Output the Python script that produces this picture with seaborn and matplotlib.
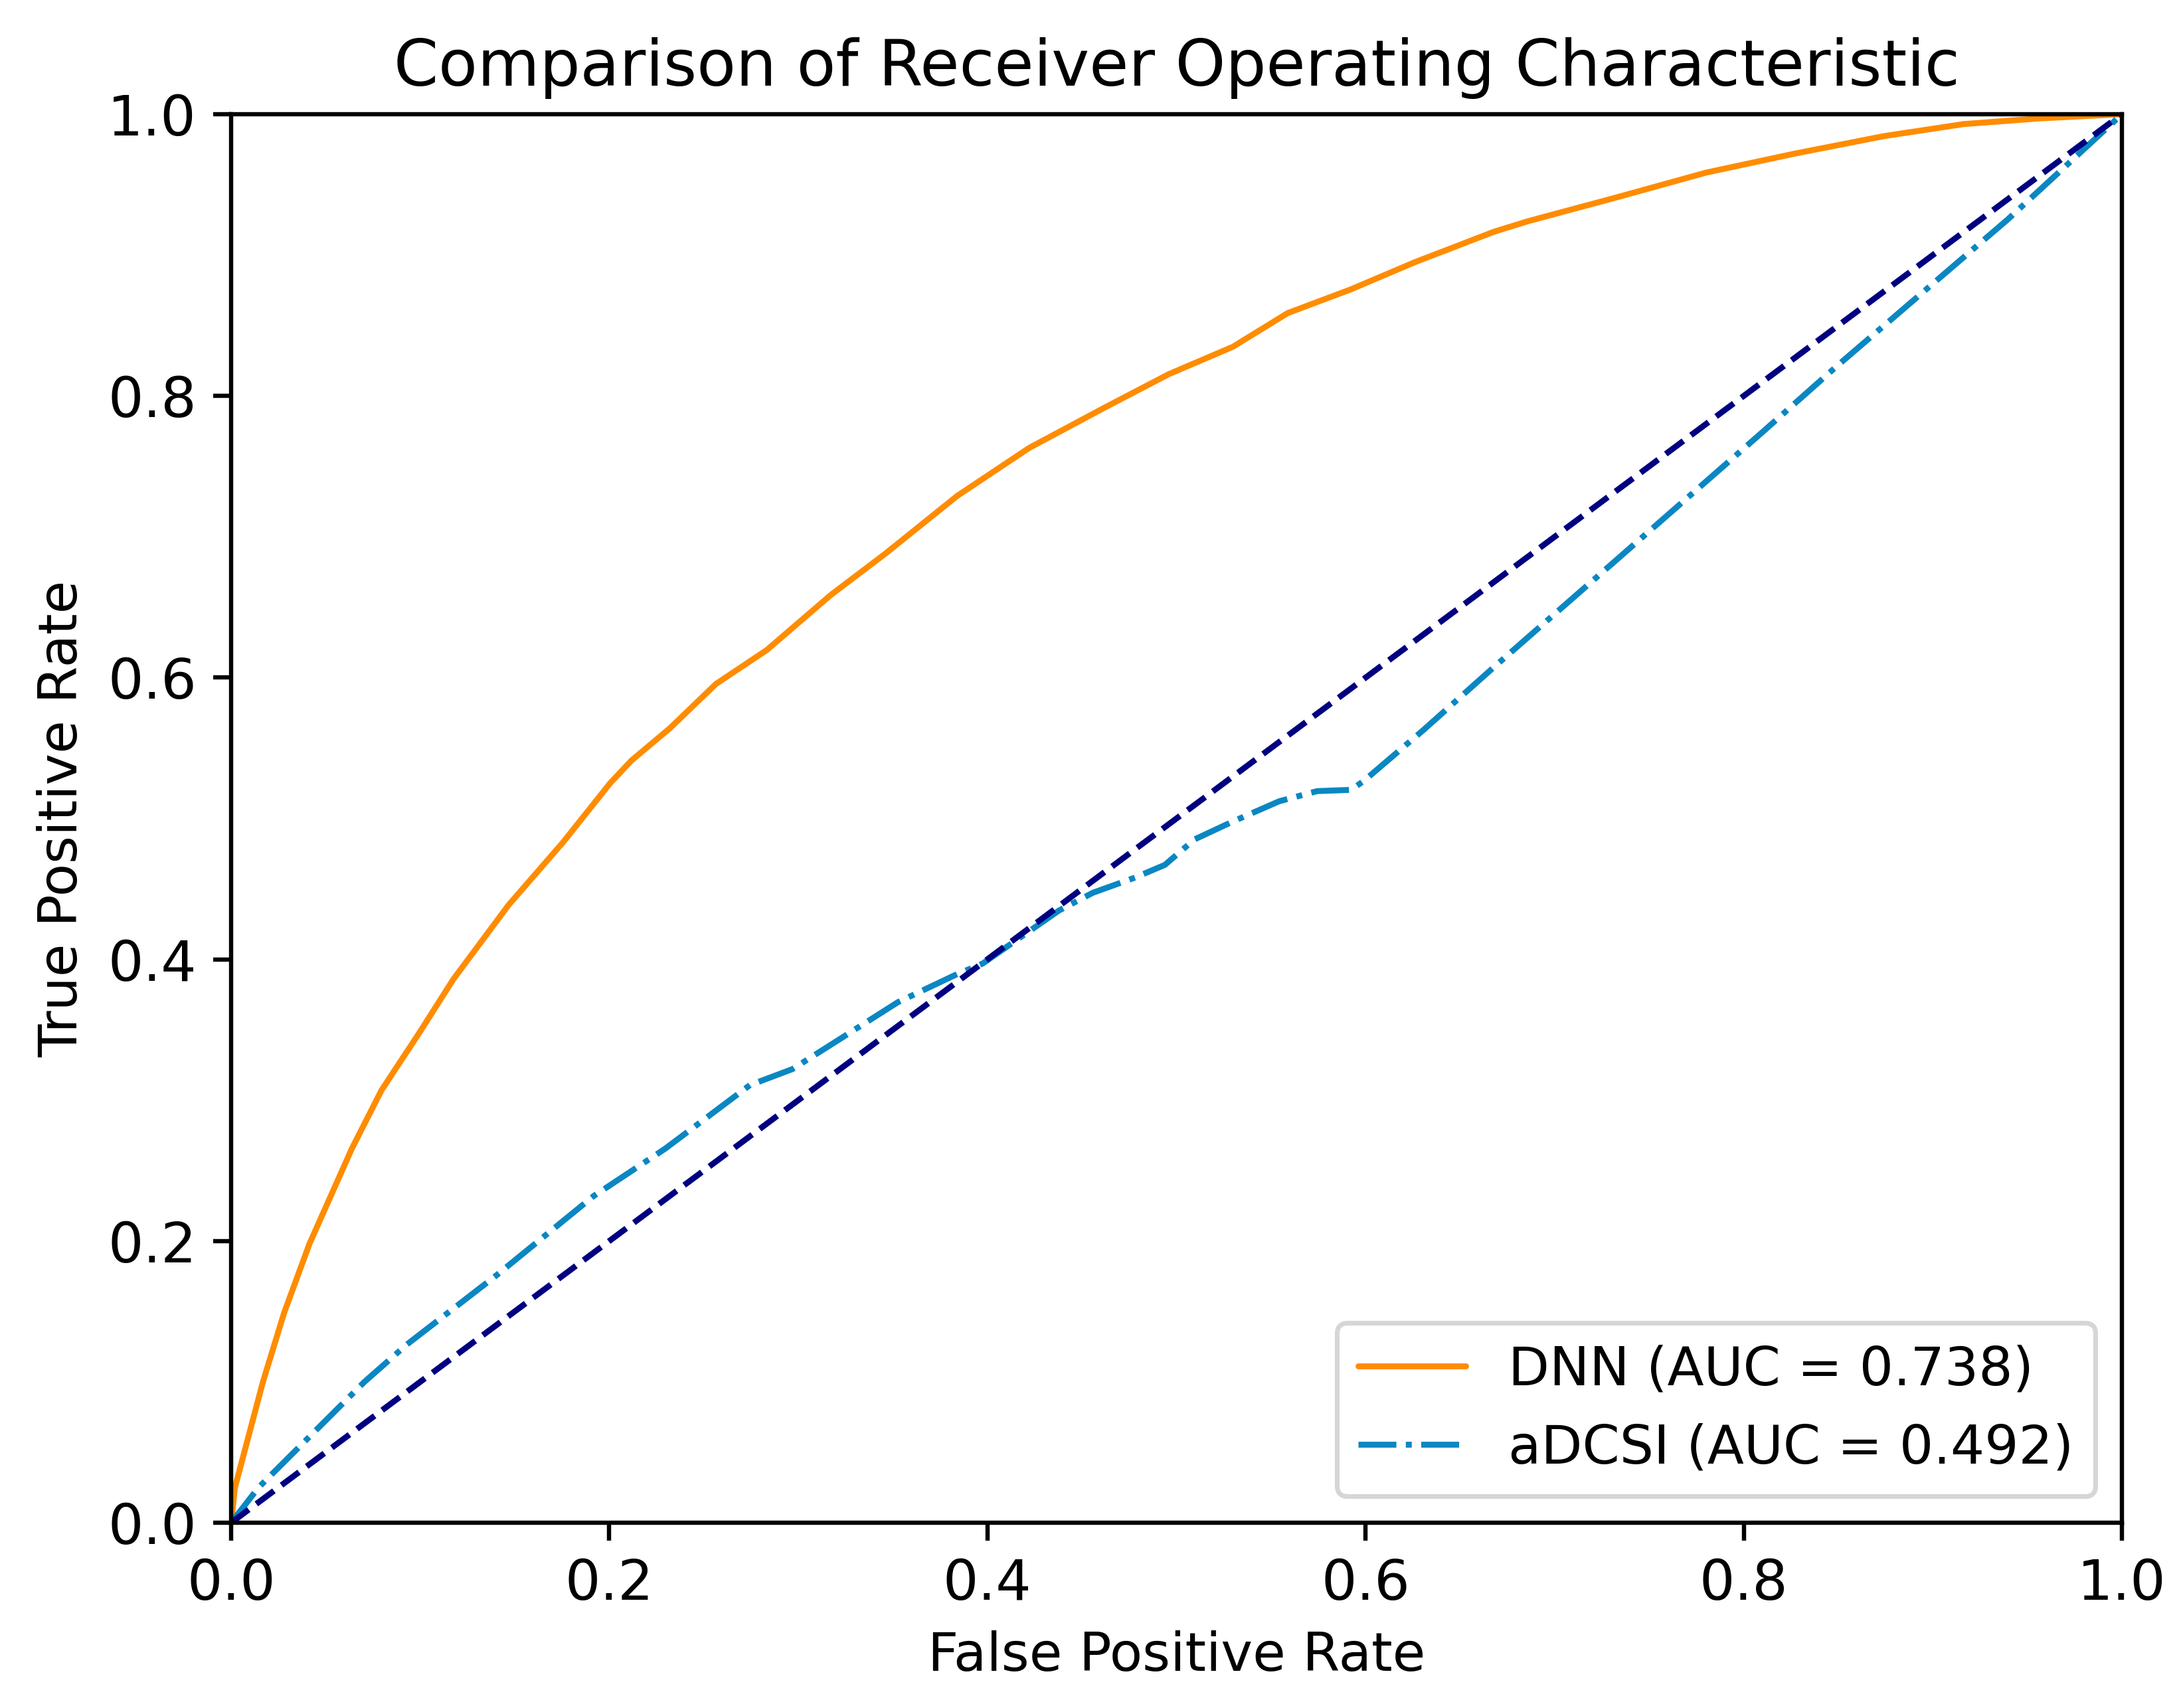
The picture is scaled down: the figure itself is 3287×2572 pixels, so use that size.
import numpy as np
import pandas as pd
import matplotlib
matplotlib.use("Agg")
import matplotlib.pyplot as plt
import seaborn as sns

# ---- data ----
dnn_fpr = [0.0, 0.002, 0.0168, 0.028, 0.0414, 0.0638, 0.0795, 0.0996, 0.1176, 0.1467,
           0.1758, 0.2004, 0.2116, 0.232, 0.2564, 0.2833, 0.317, 0.346, 0.384, 0.422,
           0.4624, 0.496, 0.5297, 0.5588, 0.5923, 0.626, 0.668, 0.6858, 0.7329, 0.780,
           0.8269, 0.874, 0.9163, 0.9563, 1.0]
dnn_tpr = [0.0, 0.025, 0.100, 0.149, 0.198, 0.2655, 0.307, 0.348, 0.386, 0.4385,
           0.4835, 0.525, 0.541, 0.564, 0.5955, 0.6196, 0.6585, 0.688, 0.729, 0.763,
           0.792, 0.8155, 0.8348, 0.8588, 0.8757, 0.8949, 0.9166, 0.924, 0.941, 0.9585,
           0.972, 0.9844, 0.993, 0.997, 1.0]

adcsi_fpr = [0.0, 0.0145, 0.0369, 0.0705, 0.0929, 0.140, 0.1915, 0.2295, 0.2744, 0.2968,
             0.3168, 0.3527, 0.384, 0.3975, 0.4378, 0.4557, 0.478, 0.4938, 0.5095, 0.5296,
             0.5543, 0.5744, 0.5923, 0.599, 0.6305, 0.668, 0.8105, 0.8498, 0.9398, 1.0]
adcsi_tpr = [0.0, 0.025, 0.055, 0.100, 0.1265, 0.1753, 0.2317, 0.2655, 0.3107, 0.322,
             0.339, 0.3696, 0.3895, 0.397, 0.4346, 0.4472, 0.458, 0.467, 0.4851, 0.4977,
             0.5122, 0.5194, 0.5203, 0.5266, 0.5627, 0.6076, 0.775, 0.8218, 0.9255, 1.0]

chance = [0.0, 1.0]

labels = ["DNN (AUC = 0.738)", "aDCSI (AUC = 0.492)"]
title = "Comparison of Receiver Operating Characteristic"
xlabel = "False Positive Rate"
ylabel = "True Positive Rate"

# ---- style ----
sns.set_style("ticks")
plt.rcParams.update({
    "font.family": ["DejaVu Sans"],
    "axes.edgecolor": "black",
    "axes.labelcolor": "black",
    "text.color": "black",
    "xtick.color": "black",
    "ytick.color": "black",
    "axes.linewidth": 0.9,
    "xtick.major.size": 3.8,
    "ytick.major.size": 3.8,
    "xtick.major.width": 0.9,
    "ytick.major.width": 0.9,
    "font.size": 11.3,
    "axes.titlesize": 13.5,
    "axes.labelsize": 11.3,
    "xtick.labelsize": 11.8,
    "ytick.labelsize": 11.8,
    "legend.fontsize": 11.3,
})

fig = plt.figure(figsize=(6.4, 5.008), dpi=513.6)
ax = fig.add_axes([0.1059, 0.1085, 0.9720 - 0.1059, 0.9331 - 0.1085])

df_dnn = pd.DataFrame({"fpr": dnn_fpr, "tpr": dnn_tpr})
df_adcsi = pd.DataFrame({"fpr": adcsi_fpr, "tpr": adcsi_tpr})
df_chance = pd.DataFrame({"fpr": chance, "tpr": chance})

sns.lineplot(data=df_dnn, x="fpr", y="tpr", ax=ax, color="darkorange", lw=1.25,
             estimator=None, sort=False, label=labels[0])
sns.lineplot(data=df_adcsi, x="fpr", y="tpr", ax=ax, color="#0a87c2", lw=1.25,
             linestyle="-.", estimator=None, sort=False, label=labels[1])
sns.lineplot(data=df_chance, x="fpr", y="tpr", ax=ax, color="navy", lw=1.25,
             linestyle="--", estimator=None, sort=False)

ax.set_xlim(0.0, 1.0)
ax.set_ylim(0.0, 1.0)
ax.set_xticks(np.arange(0, 1.01, 0.2))
ax.set_yticks(np.arange(0, 1.01, 0.2))
ax.set_xlabel(xlabel)
ax.set_ylabel(ylabel)
ax.set_title(title)
for s in ax.spines.values():
    s.set_visible(True)
    s.set_color("black")

ax.legend(loc="lower right", frameon=True)

fig.savefig("out.png", dpi=513.6)
